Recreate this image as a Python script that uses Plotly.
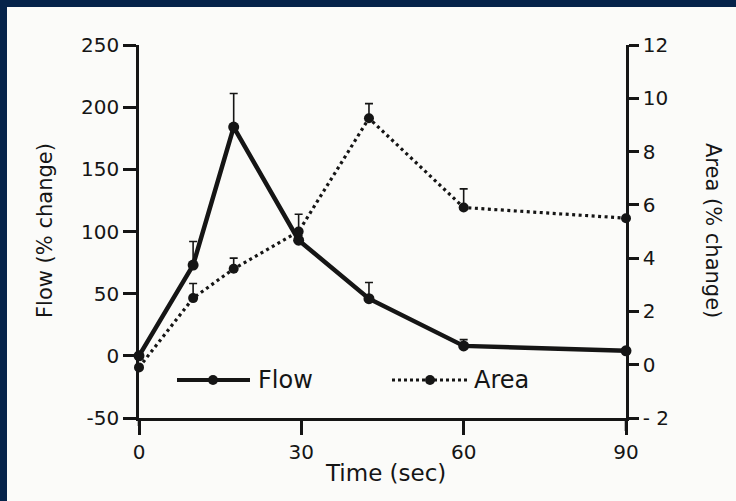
import plotly.graph_objects as go

# ---- data ----
time_sec = [0, 10, 17.5, 29.5, 42.5, 60, 90]
flow_pct = [0, 73, 184, 93, 46, 8, 4]
flow_err = [0, 19, 27, 4, 13, 5, 0]
area_pct = [-0.1, 2.5, 3.6, 5.0, 9.25, 5.9, 5.5]
area_err = [0, 0.55, 0.4, 0.65, 0.55, 0.7, 0]

x_ticks = [0, 30, 60, 90]
flow_ticks = [-50, 0, 50, 100, 150, 200, 250]
flow_ticktext = ["-50", "0", "50", "100", "150", "200", "250"]
area_ticks = [-2, 0, 2, 4, 6, 8, 10, 12]
area_ticktext = ["- 2", "0", "2", "4", "6", "8", "10", "12"]

FONT = "DejaVu Sans"
INK = "#151515"
PANEL = "#fbfbf9"
NAVY = "#05234a"

fig = go.Figure()

fig.add_trace(go.Scatter(
    x=time_sec, y=flow_pct, name="Flow", mode="lines+markers",
    line=dict(color=INK, width=4.5),
    marker=dict(color=INK, size=11, symbol="circle"),
    error_y=dict(type="data", symmetric=False, array=flow_err,
                 arrayminus=[0] * len(flow_err), color=INK, thickness=1.6, width=4),
    cliponaxis=False, showlegend=False, yaxis="y"))

fig.add_trace(go.Scatter(
    x=time_sec, y=area_pct, name="Area", mode="lines+markers",
    line=dict(color=INK, width=3.2, dash="3px,3.5px"),
    marker=dict(color=INK, size=10, symbol="circle"),
    error_y=dict(type="data", symmetric=False, array=area_err,
                 arrayminus=[0] * len(area_err), color=INK, thickness=1.6, width=4),
    cliponaxis=False, showlegend=False, yaxis="y2"))

L, R, T, B = 139, 110, 45, 83
W, H = 736, 501
PW, PH = W - L - R, H - T - B


def px(xp):
    return (xp - L) / PW


def py(yp):
    return (H - B - yp) / PH


shapes = [
    # navy page with light panel
    dict(type="rect", xref="paper", yref="paper", x0=px(7), x1=px(760),
         y0=py(530), y1=py(7), fillcolor=PANEL, line=dict(width=0), layer="below"),
    # axes extend slightly below the bottom axis
    dict(type="line", xref="paper", yref="paper", x0=1, x1=1, y0=py(431), y1=0,
         line=dict(color=INK, width=2.6)),
    dict(type="line", xref="paper", yref="paper", x0=0, x1=0, y0=py(426), y1=0,
         line=dict(color=INK, width=2.6)),
    # legend samples
    dict(type="line", xref="paper", yref="paper", x0=px(177), x1=px(250),
         y0=py(380), y1=py(380), line=dict(color=INK, width=4)),
    dict(type="circle", xref="paper", yref="paper", xsizemode="pixel", ysizemode="pixel",
         xanchor=px(213), yanchor=py(380), x0=-5, x1=5, y0=-5, y1=5,
         fillcolor=INK, line=dict(width=0)),
    dict(type="line", xref="paper", yref="paper", x0=px(392), x1=px(467),
         y0=py(380), y1=py(380), line=dict(color=INK, width=3, dash="3px,3px")),
    dict(type="circle", xref="paper", yref="paper", xsizemode="pixel", ysizemode="pixel",
         xanchor=px(430), yanchor=py(380), x0=-5, x1=5, y0=-5, y1=5,
         fillcolor=INK, line=dict(width=0)),
]

annotations = [
    dict(text="Flow", xref="paper", yref="paper", x=px(256), y=py(380),
         xanchor="left", yanchor="middle", showarrow=False,
         font=dict(family=FONT, size=24, color=INK)),
    dict(text="Area", xref="paper", yref="paper", x=px(472), y=py(380),
         xanchor="left", yanchor="middle", showarrow=False,
         font=dict(family=FONT, size=24, color=INK)),
    dict(text="Flow (% change)", xref="paper", yref="paper", x=px(45), y=py(231),
         xanchor="center", yanchor="middle", textangle=-90, showarrow=False,
         font=dict(family=FONT, size=21, color=INK)),
    dict(text="Area (% change)", xref="paper", yref="paper", x=px(713), y=py(230),
         xanchor="center", yanchor="middle", textangle=90, showarrow=False,
         font=dict(family=FONT, size=21, color=INK)),
    dict(text="Time (sec)", xref="paper", yref="paper", x=px(385), y=py(473),
         xanchor="center", yanchor="middle", showarrow=False,
         font=dict(family=FONT, size=23, color=INK)),
]

axis_common = dict(showgrid=False, zeroline=False, showline=True, linecolor=INK,
                   linewidth=2.6, ticks="outside", tickcolor=INK, tickwidth=2.6,
                   tickfont=dict(family=FONT, size=20, color=INK))

fig.update_layout(
    width=W, height=H,
    margin=dict(l=L, r=R, t=T, b=B, autoexpand=False),
    paper_bgcolor=NAVY, plot_bgcolor=PANEL,
    showlegend=False,
    xaxis=dict(range=[0, 90], tickvals=x_ticks, ticklen=14, **axis_common),
    yaxis=dict(range=[-50, 250], tickvals=flow_ticks, ticktext=flow_ticktext,
               ticklen=13, **axis_common),
    yaxis2=dict(range=[-2, 12], tickvals=area_ticks, ticktext=area_ticktext,
                overlaying="y", side="right", ticklen=10, **axis_common),
    shapes=shapes, annotations=annotations,
)

fig.write_html("out.html")
